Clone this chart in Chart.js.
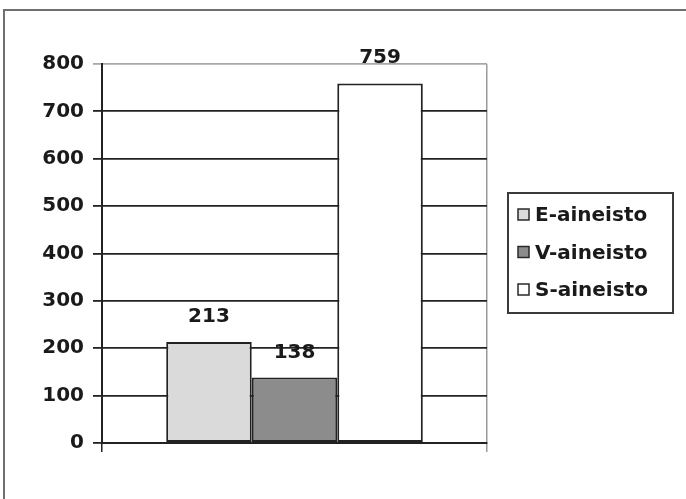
<!DOCTYPE html>
<html>
<head>
<meta charset="utf-8">
<script src="https://cdn.jsdelivr.net/npm/chart.js@4/dist/chart.umd.min.js"></script>
<style>
  html, body { margin: 0; padding: 0; background: #ffffff; }
  #wrap { width: 686px; height: 499px; position: relative; }
</style>
</head>
<body>
<div id="wrap"><canvas id="c" width="686" height="499"></canvas></div>
<script>
// Aineistojen koot
const categories = [''];
const seriesNames = ['E-aineisto', 'V-aineisto', 'S-aineisto'];
const eValues = [213];
const vValues = [138];
const sValues = [759];
const yTicks = [0, 100, 200, 300, 400, 500, 600, 700, 800];

const seriesColors = ['#dadada', '#8c8c8c', '#ffffff'];
const FONT = 'DejaVu Sans';

// Outer frame (top and left edges) behind everything
const framePlugin = {
  id: 'frame',
  beforeDraw(chart) {
    const ctx = chart.ctx;
    ctx.save();
    ctx.fillStyle = '#ffffff';
    ctx.fillRect(0, 0, chart.width, chart.height);
    ctx.strokeStyle = '#707070';
    ctx.lineWidth = 2;
    ctx.beginPath();
    ctx.moveTo(chart.width, 10);
    ctx.lineTo(4, 10);
    ctx.lineTo(4, chart.height);
    ctx.stroke();
    ctx.restore();
  }
};

// Value labels above each bar
const valueLabels = {
  id: 'valueLabels',
  afterDatasetsDraw(chart) {
    const ctx = chart.ctx;
    ctx.save();
    ctx.font = 'bold 20px "' + FONT + '"';
    ctx.fillStyle = '#1a1a1a';
    ctx.textAlign = 'center';
    ctx.textBaseline = 'alphabetic';
    chart.data.datasets.forEach((ds, i) => {
      const meta = chart.getDatasetMeta(i);
      meta.data.forEach((bar, j) => {
        ctx.fillText(String(ds.data[j]), bar.x, bar.y - 20);
      });
    });
    ctx.restore();
  }
};

// Boxed legend to the right of the plot
const boxLegend = {
  id: 'boxLegend',
  afterDraw(chart) {
    const ctx = chart.ctx;
    const area = chart.chartArea;
    const left = area.right + 21;
    const right = chart.width - 13;
    const top = 193;
    const bottom = 313;
    ctx.save();
    ctx.strokeStyle = '#3a3a3a';
    ctx.lineWidth = 2;
    ctx.strokeRect(left, top, right - left, bottom - top);
    ctx.font = 'bold 20px "' + FONT + '"';
    ctx.textAlign = 'left';
    ctx.textBaseline = 'middle';
    const rowH = 37.5;
    const firstY = 215;
    chart.data.datasets.forEach((ds, i) => {
      const cy = firstY + i * rowH;
      ctx.fillStyle = ds.backgroundColor;
      ctx.fillRect(left + 10, cy - 6, 11, 11);
      ctx.strokeStyle = '#2a2a2a';
      ctx.lineWidth = 1.5;
      ctx.strokeRect(left + 10, cy - 6, 11, 11);
      ctx.fillStyle = '#1a1a1a';
      ctx.fillText(ds.label, left + 27, cy + 1);
    });
    ctx.restore();
  }
};

const seriesValues = [eValues, vValues, sValues];

new Chart(document.getElementById('c'), {
  type: 'bar',
  data: {
    labels: categories,
    datasets: seriesNames.map((name, i) => ({
      label: name,
      data: seriesValues[i],
      backgroundColor: seriesColors[i],
      borderColor: '#222222',
      borderWidth: 2,
      borderSkipped: false,
      categoryPercentage: 0.6665,
      barPercentage: 1.0
    }))
  },
  options: {
    responsive: false,
    devicePixelRatio: 1,
    animation: false,
    layout: { padding: { top: 64, left: 0, right: 199, bottom: 0 } },
    plugins: {
      legend: { display: false },
      tooltip: { enabled: false }
    },
    scales: {
      x: {
        type: 'category',
        offset: true,
        grid: {
          offset: true,
          drawOnChartArea: true,
          tickLength: 9,
          lineWidth: 1.5,
          color: (c) => (c.index === 0 ? '#222222' : '#9a9a9a')
        },
        border: { display: true, color: '#222222', width: 2 },
        ticks: { display: true },
        afterFit: (s) => { s.height = 56; }
      },
      y: {
        min: 0,
        max: 800,
        afterBuildTicks: (s) => { s.ticks = yTicks.map(v => ({ value: v })); },
        ticks: {
          padding: 9,
          color: '#1a1a1a',
          font: { family: FONT, size: 20, weight: 'bold' }
        },
        grid: {
          tickLength: 9,
          lineWidth: 1.8,
          color: (c) => (c.tick && c.tick.value === 800 ? '#a8a8a8' : '#222222')
        },
        border: { display: true, color: '#222222', width: 2 },
        afterFit: (s) => { s.width = 102; }
      }
    }
  },
  plugins: [framePlugin, valueLabels, boxLegend]
});
</script>
</body>
</html>
